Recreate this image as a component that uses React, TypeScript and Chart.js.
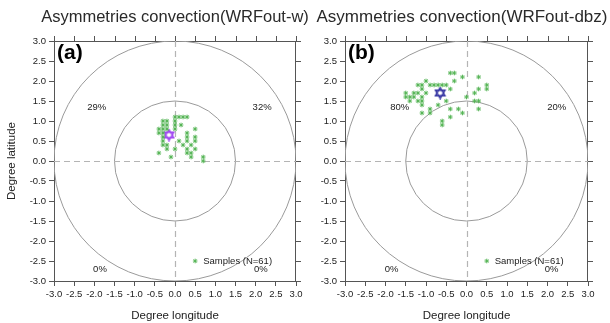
import React, { useEffect, useRef } from "react";
import { Chart, registerables } from "chart.js";

Chart.register(...registerables);

// ---------- data ----------
const titleA = "Asymmetries convection(WRFout-w)";
const titleB = "Asymmetries convection(WRFout-dbz)";
const panelLabelA = "(a)";
const panelLabelB = "(b)";
const legendText = "Samples (N=61)";
const tickValues = [-3, -2.5, -2, -1.5, -1, -0.5, 0, 0.5, 1, 1.5, 2, 2.5, 3];
const circleRadii = [1.5, 3];

const samplesAX = [0, 0.1, 0.2, 0.3, -0.3, -0.2, 0, -0.3, -0.2, 0, 0.15, -0.4, -0.3, -0.2, 0, 0.5, -0.4, -0.3, 0.3, -0.3, 0.3, 0.5, -0.3, 0.1, 0.3, 0.5, -0.3, -0.2, 0.2, 0.4, -0.2, 0, 0.3, 0.5, -0.4, 0.3, 0.4, -0.1, 0.4, 0.7, 0.7];
const samplesAY = [1.1, 1.1, 1.1, 1.1, 1.0, 1.0, 1.0, 0.9, 0.9, 0.9, 0.9, 0.8, 0.8, 0.8, 0.8, 0.8, 0.7, 0.7, 0.7, 0.6, 0.6, 0.6, 0.5, 0.5, 0.5, 0.5, 0.4, 0.4, 0.4, 0.4, 0.3, 0.3, 0.3, 0.3, 0.2, 0.2, 0.2, 0.1, 0.1, 0.1, 0.0];
const meanA = [-0.15, 0.65];

const samplesBX = [-0.4, -0.3, -0.1, 0.3, -1.0, -0.3, -1.2, -1.1, -0.9, -0.8, -0.7, -0.6, -0.5, 0.5, -1.1, -0.4, 0.3, 0.5, -1.5, -1.3, -1.2, -1.0, 0.2, -1.5, -1.4, -1.3, -1.1, 0.0, -1.4, -1.2, -1.1, -0.5, 0.2, 0.3, -1.1, -0.7, -0.9, -0.4, -0.2, 0.3, -1.1, -0.9, -0.1, -0.4, -0.6, -0.6];
const samplesBY = [2.2, 2.2, 2.1, 2.1, 2.0, 2.0, 1.9, 1.9, 1.9, 1.9, 1.9, 1.9, 1.9, 1.9, 1.8, 1.8, 1.8, 1.8, 1.7, 1.7, 1.7, 1.7, 1.7, 1.6, 1.6, 1.6, 1.6, 1.6, 1.5, 1.5, 1.5, 1.5, 1.5, 1.5, 1.4, 1.4, 1.3, 1.3, 1.3, 1.3, 1.2, 1.2, 1.2, 1.1, 1.0, 0.9];
const meanB = [-0.65, 1.7];

const quadLabelsA = ["29%", "32%", "0%", "0%"];
const quadLabelsB = ["80%", "20%", "0%", "0%"];

// ---------- style / layout ----------
const FONT = "'Liberation Sans', Arial, Helvetica, sans-serif";
const W = 610;
const H = 323;
const quadPosA = [[-1.94, 1.33], [2.16, 1.33], [-1.86, -2.72], [2.13, -2.72]];
const quadPosB = [[-1.65, 1.33], [2.23, 1.33], [-1.85, -2.72], [2.1, -2.72]];

function hexagram(color: string, size: number) {
  const c = document.createElement("canvas");
  c.width = size;
  c.height = size;
  const g = c.getContext("2d")!;
  const cx = size / 2;
  const cy = size / 2;
  const r = size / 2 - 1;
  g.lineWidth = 1.4;
  g.strokeStyle = color;
  for (const rot of [-Math.PI / 2, Math.PI / 2]) {
    g.beginPath();
    for (let i = 0; i < 3; i++) {
      const a = rot + (i * 2 * Math.PI) / 3;
      const px = cx + r * Math.cos(a);
      const py = cy + r * Math.sin(a);
      if (i === 0) g.moveTo(px, py);
      else g.lineTo(px, py);
    }
    g.closePath();
    g.stroke();
  }
  return c;
}

type Panel = {
  title: string;
  titleX: number;
  titleSize: number;
  label: string;
  sx: number[];
  sy: number[];
  mean: number[];
  meanColor: string;
  quad: string[];
  quadPos: number[][];
  padLeft: number;
  padRight: number;
  yAxisWidth: number;
  yTitle: string;
};

function makeChart(canvas: HTMLCanvasElement, p: Panel) {
  const green = "#55b455";
  const decor = {
    id: "decor",
    beforeDatasetsDraw(chart: any) {
      const { ctx, chartArea } = chart;
      const { left, right, top, bottom } = chartArea;
      const x = chart.scales.x;
      const y = chart.scales.y;
      ctx.save();
      ctx.strokeStyle = "#555";
      ctx.lineWidth = 1;
      ctx.beginPath();
      ctx.moveTo(left, top + 0.5);
      ctx.lineTo(right, top + 0.5);
      ctx.moveTo(right - 0.5, top);
      ctx.lineTo(right - 0.5, bottom);
      for (const v of tickValues) {
        const px = Math.round(x.getPixelForValue(v)) + 0.5;
        ctx.moveTo(px, top);
        ctx.lineTo(px, top - 5);
        const py = Math.round(y.getPixelForValue(v)) + 0.5;
        ctx.moveTo(right, py);
        ctx.lineTo(right + 5, py);
      }
      ctx.stroke();
      ctx.beginPath();
      ctx.rect(left, top, right - left, bottom - top);
      ctx.clip();
      const x0 = x.getPixelForValue(0);
      const y0 = y.getPixelForValue(0);
      ctx.strokeStyle = "#9a9a9a";
      ctx.lineWidth = 1;
      for (const r of circleRadii) {
        const rx = x.getPixelForValue(r) - x0;
        const ry = y0 - y.getPixelForValue(r);
        ctx.beginPath();
        ctx.ellipse(x0, y0, rx, ry, 0, 0, Math.PI * 2);
        ctx.stroke();
      }
      ctx.strokeStyle = "#b4b4b4";
      ctx.setLineDash([6, 4]);
      ctx.lineWidth = 1.2;
      ctx.beginPath();
      ctx.moveTo(Math.round(x0) + 0.5, top);
      ctx.lineTo(Math.round(x0) + 0.5, bottom);
      ctx.moveTo(left, Math.round(y0) + 0.5);
      ctx.lineTo(right, Math.round(y0) + 0.5);
      ctx.stroke();
      ctx.restore();
    },
    afterDatasetsDraw(chart: any) {
      const { ctx, chartArea } = chart;
      const x = chart.scales.x;
      const y = chart.scales.y;
      ctx.save();
      ctx.fillStyle = "#222";
      ctx.font = `9.5px ${FONT}`;
      ctx.textAlign = "center";
      ctx.textBaseline = "middle";
      p.quad.forEach((t, i) => {
        ctx.fillText(t, x.getPixelForValue(p.quadPos[i][0]), y.getPixelForValue(p.quadPos[i][1]));
      });
      const lx = x.getPixelForValue(0.5);
      const ly = y.getPixelForValue(-2.5);
      ctx.strokeStyle = green;
      ctx.lineWidth = 1;
      const s = 2.3;
      ctx.beginPath();
      ctx.moveTo(lx - s, ly);
      ctx.lineTo(lx + s, ly);
      ctx.moveTo(lx, ly - s);
      ctx.lineTo(lx, ly + s);
      ctx.moveTo(lx - s * 0.7, ly - s * 0.7);
      ctx.lineTo(lx + s * 0.7, ly + s * 0.7);
      ctx.moveTo(lx - s * 0.7, ly + s * 0.7);
      ctx.lineTo(lx + s * 0.7, ly - s * 0.7);
      ctx.stroke();
      ctx.textAlign = "left";
      ctx.fillStyle = "#222";
      ctx.font = `9.5px ${FONT}`;
      ctx.fillText(legendText, lx + 8, ly + 0.5);
      ctx.font = `bold 21px ${FONT}`;
      ctx.textBaseline = "alphabetic";
      ctx.fillStyle = "#000";
      ctx.fillText(p.label, chartArea.left + 3, 59);
      ctx.font = `${p.titleSize}px ${FONT}`;
      ctx.textAlign = "center";
      ctx.fillStyle = "#2a2a2a";
      ctx.fillText(p.title, p.titleX, 22);
      ctx.restore();
    },
  };

  const tickFont = { family: FONT, size: 9.5 };
  return new Chart(canvas, {
    type: "scatter",
    data: {
      datasets: [
        {
          label: legendText,
          data: p.sx.map((v, i) => ({ x: v, y: p.sy[i] })),
          pointStyle: "star",
          radius: 2.3,
          borderColor: green,
          backgroundColor: green,
          borderWidth: 1,
        },
        {
          label: "mean",
          data: [{ x: p.mean[0], y: p.mean[1] }],
          pointStyle: hexagram(p.meanColor, 13) as any,
          radius: 6,
        },
      ],
    },
    options: {
      responsive: false,
      animation: false,
      events: [],
      layout: { padding: { left: p.padLeft, right: p.padRight, top: 41, bottom: 0 } },
      plugins: { legend: { display: false }, tooltip: { enabled: false }, title: { display: false } },
      scales: {
        x: {
          type: "linear",
          min: -3,
          max: 3,
          afterBuildTicks: (sc: any) => {
            sc.ticks = tickValues.map((v) => ({ value: v }));
          },
          afterFit: (sc: any) => {
            sc.height = 42;
          },
          ticks: {
            autoSkip: false,
            maxRotation: 0,
            minRotation: 0,
            padding: 3,
            color: "#222",
            font: tickFont,
            callback: (v: any) => Number(v).toFixed(1),
          },
          grid: { display: true, drawOnChartArea: false, drawTicks: true, tickLength: 5, color: "#555" },
          border: { display: true, color: "#555" },
          title: { display: true, text: "Degree longitude", color: "#222", font: { family: FONT, size: 11.5 }, padding: { top: 2, bottom: 0 } },
        },
        y: {
          type: "linear",
          min: -3,
          max: 3,
          afterBuildTicks: (sc: any) => {
            sc.ticks = tickValues.map((v) => ({ value: v }));
          },
          afterFit: (sc: any) => {
            sc.width = p.yAxisWidth;
          },
          ticks: {
            autoSkip: false,
            padding: 3,
            color: "#222",
            font: tickFont,
            callback: (v: any) => Number(v).toFixed(1),
          },
          grid: { display: true, drawOnChartArea: false, drawTicks: true, tickLength: 5, color: "#555" },
          border: { display: true, color: "#555" },
          title: { display: p.yTitle !== "", text: p.yTitle, color: "#222", font: { family: FONT, size: 11.5 }, padding: { top: 0, bottom: 2 } },
        },
      },
    },
    plugins: [decor],
  } as any);
}

export default function App() {
  const refA = useRef<HTMLCanvasElement>(null);
  const refB = useRef<HTMLCanvasElement>(null);
  useEffect(() => {
    const a = makeChart(refA.current!, {
      title: titleA,
      titleX: 175,
      titleSize: 16.5,
      label: panelLabelA,
      sx: samplesAX,
      sy: samplesAY,
      mean: meanA,
      meanColor: "#9a3cf0",
      quad: quadLabelsA,
      quadPos: quadPosA,
      padLeft: 5,
      padRight: W - 296,
      yAxisWidth: 49,
      yTitle: "Degree latitude",
    });
    const b = makeChart(refB.current!, {
      title: titleB,
      titleX: 462,
      titleSize: 17,
      label: panelLabelB,
      sx: samplesBX,
      sy: samplesBY,
      mean: meanB,
      meanColor: "#2d2d9e",
      quad: quadLabelsB,
      quadPos: quadPosB,
      padLeft: 305,
      padRight: W - 588,
      yAxisWidth: 40,
      yTitle: "",
    });
    return () => {
      a.destroy();
      b.destroy();
    };
  }, []);
  const st: React.CSSProperties = { position: "absolute", left: 0, top: 0, width: W, height: H };
  return (
    <div style={{ position: "absolute", left: 0, top: 0, width: W, height: H, background: "#fff" }}>
      <canvas ref={refA} width={W} height={H} style={st} />
      <canvas ref={refB} width={W} height={H} style={st} />
    </div>
  );
}
